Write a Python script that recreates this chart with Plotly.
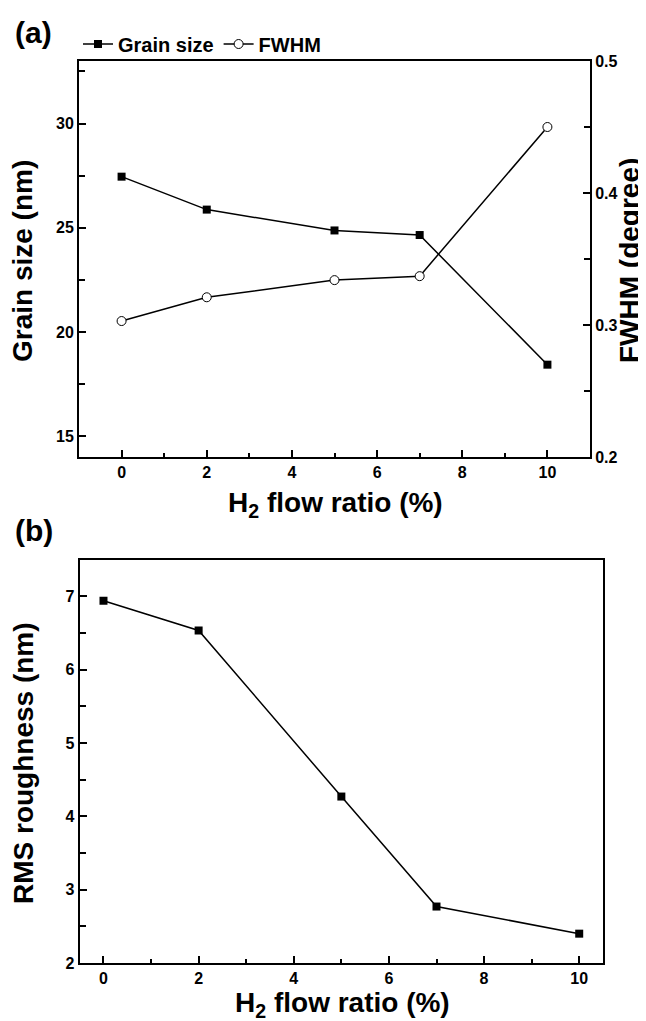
import plotly.graph_objects as go

# ---- data ----
h2_ratio = [0, 2, 5, 7, 10]
grain_size = [27.45, 25.87, 24.87, 24.65, 18.43]
fwhm = [0.303, 0.321, 0.334, 0.337, 0.450]
rms_roughness = [6.94, 6.535, 4.27, 2.77, 2.40]

W, H = 646, 1021
FONT = "Liberation Sans, Arial, sans-serif"


def px(v):
    return v / W


def py(v):
    return 1 - v / H


fig = go.Figure()
fig.add_trace(go.Scatter(
    x=h2_ratio, y=grain_size, name="Grain size", mode="lines+markers",
    line=dict(color="black", width=1.5),
    marker=dict(symbol="square", size=8, color="black"),
    xaxis="x", yaxis="y"))
fig.add_trace(go.Scatter(
    x=h2_ratio, y=fwhm, name="FWHM", mode="lines+markers",
    line=dict(color="black", width=1.5),
    marker=dict(symbol="circle", size=9, color="white",
                line=dict(color="black", width=1)),
    xaxis="x", yaxis="y2"))
fig.add_trace(go.Scatter(
    x=h2_ratio, y=rms_roughness, name="RMS roughness", mode="lines+markers",
    line=dict(color="black", width=1.5),
    marker=dict(symbol="square", size=8, color="black"),
    xaxis="x2", yaxis="y3", showlegend=False))

tickfont = dict(family=FONT, size=16, color="black", weight="bold")
common = dict(
    showgrid=False, zeroline=False, showline=True, linecolor="black",
    linewidth=2, ticks="inside", ticklen=7, tickwidth=1.5, tickcolor="black",
    tickfont=tickfont,
)

fig.update_layout(
    width=W, height=H,
    margin=dict(l=0, r=0, t=0, b=0, autoexpand=False),
    paper_bgcolor="white", plot_bgcolor="white",
    font=dict(family=FONT, color="black"),
    xaxis=dict(domain=[px(71), px(582)], range=[-1, 11], tick0=0, dtick=2,
               minor=dict(ticks="inside", dtick=1, ticklen=4, tickwidth=1.5, tickcolor="black"),
               anchor="y", mirror=True, **common),
    yaxis=dict(domain=[py(449), py(53)], range=[14, 33], tick0=0, dtick=5,
               minor=dict(ticks="inside", dtick=2.5, ticklen=6, tickwidth=1.5, tickcolor="black"),
               anchor="x", **common),
    yaxis2=dict(range=[0.2, 0.5], tick0=0, dtick=0.1, tickformat=".1f",
                minor=dict(ticks="inside", dtick=0.05, ticklen=6, tickwidth=1.5, tickcolor="black"),
                overlaying="y", side="right", anchor="x", **common),
    xaxis2=dict(domain=[px(71.7), px(595)], range=[-0.5, 10.5], tick0=0, dtick=2,
                minor=dict(ticks="inside", dtick=1, ticklen=4, tickwidth=1.5, tickcolor="black"),
                anchor="y3", mirror=True, **common),
    yaxis3=dict(domain=[py(955), py(551.7)], range=[2, 7.5], tick0=0, dtick=1,
                minor=dict(ticks="inside", dtick=0.5, ticklen=6, tickwidth=1.5, tickcolor="black"),
                anchor="x2", mirror=True, **common),
    legend=dict(orientation="h", x=px(70), y=py(36), xanchor="left", yanchor="middle",
                font=dict(family=FONT, size=20, color="black", weight="bold"),
                bgcolor="rgba(0,0,0,0)", itemwidth=30),
    showlegend=True,
)

title_font = dict(family=FONT, size=28, color="black", weight="bold")
ann = [
    dict(text="(a)", x=px(5), y=py(24), font=dict(family=FONT, size=30, color="black", weight="bold"),
         xanchor="left", yanchor="middle"),
    dict(text="(b)", x=px(5), y=py(522), font=dict(family=FONT, size=30, color="black", weight="bold"),
         xanchor="left", yanchor="middle"),
    dict(text="Grain size (nm)", x=px(14), y=py(253), textangle=-90, font=title_font,
         xanchor="center", yanchor="middle"),
    dict(text="FWHM (degree)", x=px(621), y=py(253), textangle=-90, font=title_font,
         xanchor="center", yanchor="middle"),
    dict(text="H<sub>2</sub> flow ratio (%)", x=px(327), y=py(497), font=title_font,
         xanchor="center", yanchor="middle"),
    dict(text="RMS roughness (nm)", x=px(15), y=py(755), textangle=-90, font=title_font,
         xanchor="center", yanchor="middle"),
    dict(text="H<sub>2</sub> flow ratio (%)", x=px(334), y=py(996), font=title_font,
         xanchor="center", yanchor="middle"),
]
for a in ann:
    a.update(xref="paper", yref="paper", showarrow=False)
fig.update_layout(annotations=ann)

fig.write_html("out.html")
